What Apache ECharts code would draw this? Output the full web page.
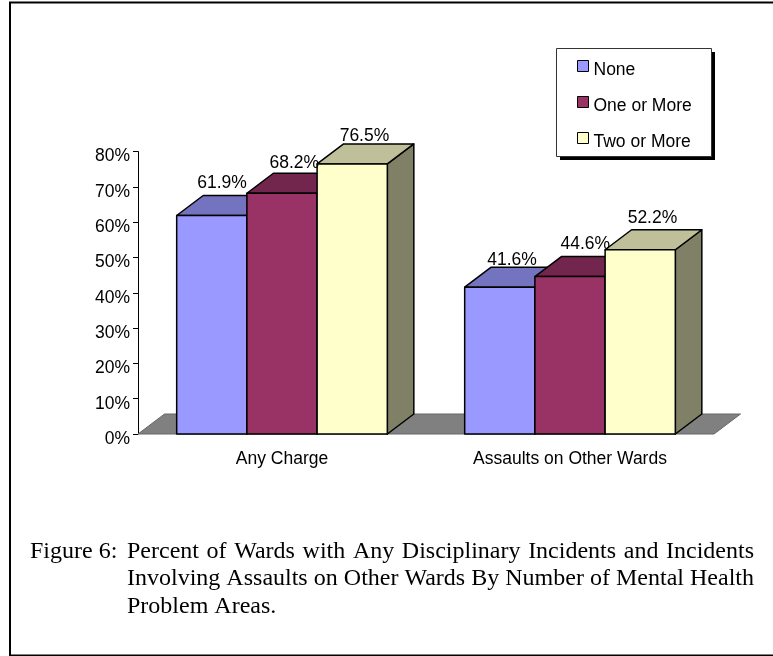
<!DOCTYPE html>
<html><head><meta charset="utf-8">
<style>html,body{margin:0;padding:0;background:#fff}#c{width:773px;height:656px}</style>
<script src="https://cdn.jsdelivr.net/npm/echarts@6/dist/echarts.min.js"></script>
</head><body><div id="c"></div>
<script>
const categories = ['Any Charge', 'Assaults on Other Wards'];
const seriesNames = ['None', 'One or More', 'Two or More'];
const none = [61.9, 41.6];
const oneOrMore = [68.2, 44.6];
const twoOrMore = [76.5, 52.2];
const yTicks = [0, 80, 10];
const captionHead = 'Figure 6:';
const captionLines = [
  'Percent of Wards with Any Disciplinary Incidents and Incidents',
  'Involving Assaults on Other Wards By Number of Mental Health',
  'Problem Areas.'
];
const faces = [
  ['#9999FF', '#7373BF', '#4D4D80'],
  ['#993366', '#73264D', '#4D1A33'],
  ['#FFFFCC', '#BFBF99', '#808066']
];
const DX = 26.5, DY = 20, BAR_FRAC = 0.2438;
const FONT = '"Liberation Sans", Arial, sans-serif';
const SERIF = '"Liberation Serif", "Times New Roman", serif';
const LABEL_SIZE = 17.5;
const CAP_FONT = '24px ' + SERIF;
// Small hand placement of value labels: [series][category] -> [dx, dy]
const labelNudge = [
  [[-2, 0], [0, 5]],
  [[0, 2], [3, 0]],
  [[0, 4], [0, 0]]
];

function barSeries(name, values, k) {
  return {
    type: 'custom', name, coordinateSystem: 'cartesian2d',
    itemStyle: { color: faces[k][0] },
    data: values.map((v, i) => [i, v]),
    encode: { x: 0, y: 1 },
    renderItem(params, api) {
      const c = api.value(0), v = api.value(1);
      const top = api.coord([c, v]), base = api.coord([c, 0]);
      const w = api.size([1, 0])[0] * BAR_FRAC;
      const x0 = top[0] + (k - 1.5) * w, x1 = x0 + w, yt = top[1], yb = base[1];
      const line = { stroke: '#000', lineWidth: 1.5, lineJoin: 'round' };
      const poly = (pts, fill) => ({ type: 'polygon', shape: { points: pts }, style: Object.assign({ fill }, line) });
      const nudge = labelNudge[k][c];
      return { type: 'group', children: [
        poly([[x1, yt], [x1 + DX, yt - DY], [x1 + DX, yb - DY], [x1, yb]], faces[k][2]),
        poly([[x0, yt], [x0 + DX, yt - DY], [x1 + DX, yt - DY], [x1, yt]], faces[k][1]),
        poly([[x0, yt], [x1, yt], [x1, yb], [x0, yb]], faces[k][0]),
        { type: 'text', z2: 100, style: {
            x: (x0 + x1) / 2 + DX / 2 - 1 + nudge[0], y: yt - DY - 12 + nudge[1],
            text: v.toFixed(1) + '%', align: 'center', verticalAlign: 'middle',
            font: LABEL_SIZE + 'px ' + FONT, fill: '#000' } }
      ]};
    }
  };
}
const floorSeries = {
  type: 'custom', name: 'floor', silent: true, data: [[0, 0]], encode: { x: 0, y: 1 },
  renderItem(params, api) {
    const g = params.coordSys, yb = g.y + g.height, x0 = g.x, x1 = g.x + g.width;
    return { type: 'polygon', shape: { points: [[x0, yb], [x0 + DX, yb - DY], [x1 + DX, yb - DY], [x1, yb]] },
      style: { fill: '#808080', stroke: '#666', lineWidth: 1 } };
  }
};

// Justify one caption line between two x positions, word by word.
const ctx = document.createElement('canvas').getContext('2d');
ctx.font = CAP_FONT;
function justified(text, left, right, top) {
  const words = text.split(' ');
  const widths = words.map(w => ctx.measureText(w).width);
  const gap = (right - left - widths.reduce((a, b) => a + b, 0)) / (words.length - 1);
  let x = left;
  return words.map((w, i) => {
    const el = { type: 'text', x, y: top, z: 5, style: { text: w, font: CAP_FONT, fill: '#000' } };
    x += widths[i] + gap;
    return el;
  });
}

const chart = echarts.init(document.getElementById('c'), null, { renderer: 'canvas' });
chart.setOption({
  animation: false,
  backgroundColor: '#fff',
  grid: { left: 138, top: 151.6, width: 576, height: 282.4 },
  xAxis: { type: 'category', data: categories, axisTick: { show: false }, axisLine: { show: false },
    axisLabel: { color: '#000', fontFamily: FONT, fontSize: LABEL_SIZE, margin: 16 } },
  yAxis: { type: 'value', min: yTicks[0], max: yTicks[1], interval: yTicks[2], splitLine: { show: false },
    axisLine: { show: true, lineStyle: { color: '#000', width: 1 } },
    axisTick: { show: true, length: 5, lineStyle: { color: '#000', width: 1 } },
    axisLabel: { color: '#000', fontFamily: FONT, fontSize: LABEL_SIZE, margin: 8, formatter: '{t|{value}%}',
      rich: { t: { color: '#000', fontFamily: FONT, fontSize: LABEL_SIZE, padding: [10, 0, 0, 0] } } } },
  legend: {
    data: seriesNames, orient: 'vertical', left: 577, top: 60, padding: 0,
    itemWidth: 11, itemHeight: 11, itemGap: 17, icon: 'rect',
    itemStyle: { borderColor: '#000', borderWidth: 1 },
    formatter: '{t|{name}}',
    textStyle: { color: '#000', fontFamily: FONT, fontSize: LABEL_SIZE,
      rich: { t: { color: '#000', fontFamily: FONT, fontSize: LABEL_SIZE, padding: [8, 0, 0, 0] } } },
    selectedMode: false, z: 10
  },
  series: [floorSeries, barSeries(seriesNames[0], none, 0), barSeries(seriesNames[1], oneOrMore, 1), barSeries(seriesNames[2], twoOrMore, 2)],
  graphic: [
    { type: 'rect', z: -1, shape: { x: 10, y: 2.5, width: 780, height: 653 }, style: { fill: 'none', stroke: '#000', lineWidth: 2 } },
    { type: 'rect', z: 5, shape: { x: 560, y: 52, width: 155, height: 108 }, style: { fill: '#000' } },
    { type: 'rect', z: 5, shape: { x: 556.5, y: 48.5, width: 155, height: 108 }, style: { fill: '#fff', stroke: '#333', lineWidth: 1 } },
    { type: 'text', x: 30, y: 540, z: 5, style: { text: captionHead, font: CAP_FONT, fill: '#000' } },
    ...justified(captionLines[0], 127, 754, 540),
    ...justified(captionLines[1], 127, 754, 567),
    { type: 'text', x: 127, y: 595, z: 5, style: { text: captionLines[2], font: CAP_FONT, fill: '#000' } }
  ]
});
</script></body></html>
